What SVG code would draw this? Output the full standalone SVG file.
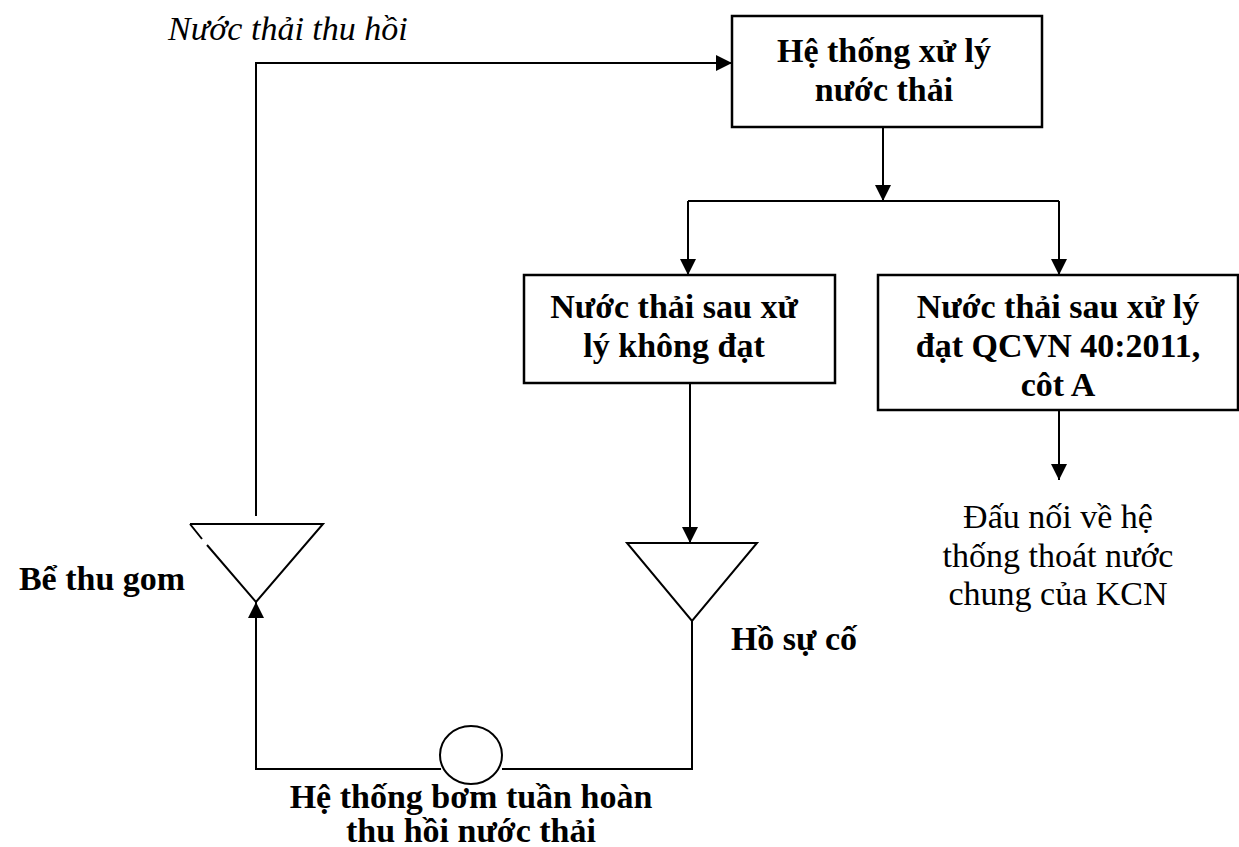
<svg xmlns="http://www.w3.org/2000/svg" width="1239" height="847" viewBox="0 0 1239 847">
  <style>
    .box { fill: #fff; stroke: #000; stroke-width: 2.5; }
    .ln { fill: none; stroke: #000; stroke-width: 2; }
    .tank { fill: #fff; stroke: #000; stroke-width: 2; }
    .b { font-family: "Liberation Serif", "Times New Roman", serif; font-weight: bold; font-size: 34px; fill: #000; text-anchor: middle; }
    .r { font-family: "Liberation Serif", "Times New Roman", serif; font-size: 34px; fill: #000; text-anchor: middle; }
    .i { font-family: "Liberation Serif", "Times New Roman", serif; font-style: italic; font-size: 34px; fill: #000; }
  </style>
  <defs>
    <marker id="arrow" markerUnits="userSpaceOnUse" markerWidth="16" markerHeight="16" refX="16" refY="8" orient="auto">
      <path d="M0,0 L16,8 L0,16 Z" fill="#000"/>
    </marker>
  </defs>

  <!-- connectors -->
  <g id="connectors">
    <!-- recycled water back to treatment -->
    <path class="ln" d="M256,516 L256,63 L732,63" marker-end="url(#arrow)"/>
    <!-- treatment to split -->
    <path class="ln" d="M883,127 L883,201" marker-end="url(#arrow)"/>
    <path class="ln" d="M688,201 L1059,201"/>
    <path class="ln" d="M688,201 L688,275" marker-end="url(#arrow)"/>
    <path class="ln" d="M1059,201 L1059,275" marker-end="url(#arrow)"/>
    <!-- failed effluent to emergency pond -->
    <path class="ln" d="M690,383 L690,543" marker-end="url(#arrow)"/>
    <!-- compliant effluent to discharge -->
    <path class="ln" d="M1059,410 L1059,480" marker-end="url(#arrow)"/>
    <!-- return loop through pump -->
    <path class="ln" d="M692,621 L692,769 L502,769"/>
    <path class="ln" d="M441,769 L256,769 L256,602" marker-end="url(#arrow)"/>
  </g>

  <g id="treatment">
    <rect class="box" x="732" y="16" width="310" height="111"/>
    <text class="b" x="884" y="62">Hệ thống xử lý</text>
    <text class="b" x="884" y="101">nước thải</text>
  </g>

  <g id="fail">
    <rect class="box" x="524" y="275" width="311" height="108"/>
    <text class="b" x="674" y="318">Nước thải sau xử</text>
    <text class="b" x="674" y="357">lý không đạt</text>
  </g>

  <g id="pass">
    <rect class="box" x="878" y="275" width="360" height="135"/>
    <text class="b" x="1058" y="318">Nước thải sau xử lý</text>
    <text class="b" x="1058" y="357">đạt QCVN 40:2011,</text>
    <text class="b" x="1058" y="396">côt A</text>
  </g>

  <g id="discharge">
    <text class="r" x="1058" y="528">Đấu nối về hệ</text>
    <text class="r" x="1058" y="567">thống thoát nước</text>
    <text class="r" x="1058" y="605">chung của KCN</text>
  </g>

  <g id="collection-tank">
    <path class="tank" d="M190,524 L323,524 L256,602 L207,545 M202,539 L190,524"/>
    <text class="b" x="102" y="590">Bể thu gom</text>
  </g>

  <g id="emergency-pond">
    <path class="tank" d="M627,543 L757,543 L692,621 Z"/>
    <text class="b" x="794" y="650">Hồ sự cố</text>
  </g>

  <g id="pump">
    <ellipse class="tank" cx="471" cy="755" rx="31" ry="29"/>
    <text class="b" x="471" y="808">Hệ thống bơm tuần hoàn</text>
    <text class="b" x="471" y="842">thu hồi nước thải</text>
  </g>

  <g id="recycle-label">
    <text class="i" x="168" y="40">Nước thải thu hồi</text>
  </g>
</svg>
